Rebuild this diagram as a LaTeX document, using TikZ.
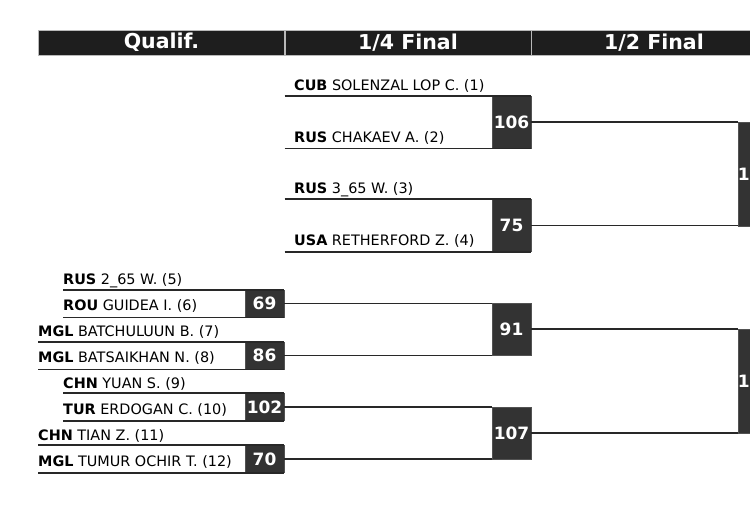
\documentclass[tikz,border=0pt]{standalone}
\usepackage{fontspec}
\setmainfont{DejaVu Sans}
\definecolor{bkhead}{RGB}{30,30,30}
\definecolor{bkbox}{RGB}{51,51,51}
\definecolor{bkline}{RGB}{40,40,40}
\usetikzlibrary{positioning}

\begin{document}
\begin{tikzpicture}[x=1pt, y=-1pt,
  hd/.style={fill=bkhead, draw=gray!55, line width=0.6pt, text=white, font=\bfseries\fontsize{20.5}{20.5}\selectfont, minimum width=246, minimum height=25, inner sep=0},
  nm/.style={anchor=base west, inner sep=0, font=\fontsize{14.4}{14.4}\selectfont},
  sc/.style={fill=bkbox, draw=bkbox!85!white, line width=0.6pt, text=white, font=\bfseries\fontsize{17}{17}\selectfont, minimum width=39, inner sep=0},
  qbox/.style={sc, minimum height=27},
  rbox/.style={sc, minimum height=52},
  sbox/.style={sc, minimum height=104},
  pline/.style={draw=bkline, line width=1.6pt}]
\path[use as bounding box, fill=white] (0,0) rectangle (750,512);
\clip (0,0) rectangle (750,512);
% Header
\node[hd] (hql) at (161.5,42.5) {Qualif.};
\node[hd] (hqf) at (408,42.5) {1/4 Final};
\node[hd] (hsf) at (654,42.5) {1/2 Final};
% Qualif. names
\node[nm] (p5) at (63,284) {\textbf{RUS} 2\_65 W. (5)};
\node[nm] (p6) at (63,310) {\textbf{ROU} GUIDEA I. (6)};
\node[nm] (p7) at (38,336) {\textbf{MGL} BATCHULUUN B. (7)};
\node[nm] (p8) at (38,362) {\textbf{MGL} BATSAIKHAN N. (8)};
\node[nm] (p9) at (63,388) {\textbf{CHN} YUAN S. (9)};
\node[nm] (p10) at (63,414) {\textbf{TUR} ERDOGAN C. (10)};
\node[nm] (p11) at (38,440) {\textbf{CHN} TIAN Z. (11)};
\node[nm] (p12) at (38,466) {\textbf{MGL} TUMUR OCHIR T. (12)};
% 1/4 Final names
\node[nm] (p1) at (294,90) {\textbf{CUB} SOLENZAL LOP C. (1)};
\node[nm] (p2) at (294,142) {\textbf{RUS} CHAKAEV A. (2)};
\node[nm] (p3) at (294,193.5) {\textbf{RUS} 3\_65 W. (3)};
\node[nm] (p4) at (294,245.5) {\textbf{USA} RETHERFORD Z. (4)};
% Qualif. bouts
\node[qbox] (q69) at (264.5,303.5) {69};
\node[qbox] (q86) at (264.5,355.5) {86};
\node[qbox] (q102) at (264.5,407) {102};
\node[qbox] (q70) at (264.5,459) {70};
% 1/4 Final bouts
\node[rbox] (r106) at (511.5,122) {106};
\node[rbox] (r75) at (511.5,225.5) {75};
\node[rbox] (r91) at (511.5,329) {91};
\node[rbox] (r107) at (511.5,433) {107};
% 1/2 Final bouts
\node[sbox] (s1) at (757.5,174) {};
\node[sbox] (s2) at (757.5,381) {};
\node[inner sep=0, anchor=west, text=white, font=\bfseries\fontsize{17}{17}\selectfont] (s1n) at (s1.west) {1};
\node[inner sep=0, anchor=west, text=white, font=\bfseries\fontsize{17}{17}\selectfont] (s2n) at (s2.west) {1};
% Name lines
\draw[pline] (p5.west |- q69.north) -- (q69.north east);
\draw[pline] (p6.west |- q69.south) -- (q69.south east);
\draw[pline] (p7.west |- q86.north) -- (q86.north east);
\draw[pline] (p8.west |- q86.south) -- (q86.south east);
\draw[pline] (p9.west |- q102.north) -- (q102.north east);
\draw[pline] (p10.west |- q102.south) -- (q102.south east);
\draw[pline] (p11.west |- q70.north) -- (q70.north east);
\draw[pline] (p12.west |- q70.south) -- (q70.south east);
\draw[pline] (hqf.west |- r106.north) -- (r106.north east);
\draw[pline] (hqf.west |- r106.south) -- (r106.south east);
\draw[pline] (hqf.west |- r75.north) -- (r75.north east);
\draw[pline] (hqf.west |- r75.south) -- (r75.south east);
% Connectors
\draw[pline] (q69.east) -- (q69.east -| r91.west);
\draw[pline] (q86.east) -- (q86.east -| r91.west);
\draw[pline] (q102.east) -- (q102.east -| r107.west);
\draw[pline] (q70.east) -- (q70.east -| r107.west);
\draw[pline] (r106.east) -- (r106.east -| s1.west);
\draw[pline] (r75.east) -- (r75.east -| s1.west);
\draw[pline] (r91.east) -- (r91.east -| s2.west);
\draw[pline] (r107.east) -- (r107.east -| s2.west);
\end{tikzpicture}
\end{document}
